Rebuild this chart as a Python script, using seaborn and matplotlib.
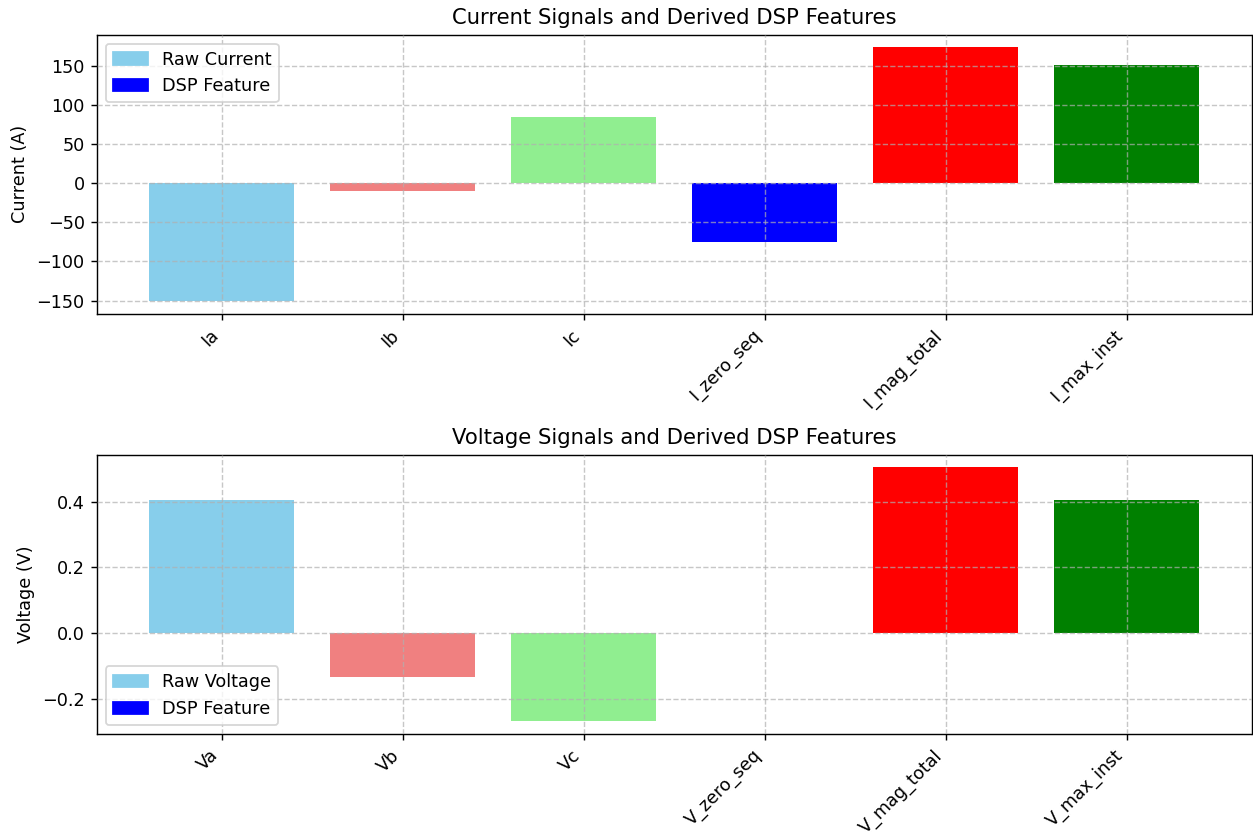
import matplotlib
matplotlib.use("Agg")
import matplotlib.pyplot as plt
import matplotlib.patches as mpatches
from matplotlib.ticker import MultipleLocator
import seaborn as sns
import pandas as pd

current_labels = ["Ia", "Ib", "Ic", "I_zero_seq", "I_mag_total", "I_max_inst"]
current_values = [-151.0, -9.5, 84.7, -75.8, 173.4, 151.0]
voltage_labels = ["Va", "Vb", "Vc", "V_zero_seq", "V_mag_total", "V_max_inst"]
voltage_values = [0.405, -0.134, -0.268, 0.0, 0.504, 0.405]
bar_colors = ["skyblue", "lightcoral", "lightgreen", "blue", "red", "green"]

DPI = 127
W, H = 1253, 832
fig, axes = plt.subplots(2, 1, figsize=(W / DPI, H / DPI), dpi=DPI)
fig.subplots_adjust(left=97 / W, right=1251.5 / W, top=1 - 34.7 / H, bottom=1 - 734 / H,
                    hspace=140.7 / 279.3)

panels = [
    (axes[0], current_labels, current_values, "Current Signals and Derived DSP Features",
     "Current (A)", "Raw Current", 50),
    (axes[1], voltage_labels, voltage_values, "Voltage Signals and Derived DSP Features",
     "Voltage (V)", "Raw Voltage", 0.2),
]

for ax, labels, values, title, ylabel, raw_name, step in panels:
    df = pd.DataFrame({"signal": labels, "value": values})
    sns.barplot(data=df, x="signal", y="value", hue="signal", palette=bar_colors,
                saturation=1, legend=False, ax=ax, width=0.8, linewidth=0)
    n = len(labels)
    ax.set_xlim(-0.4 - 0.05 * (n - 0.2), n - 1 + 0.4 + 0.05 * (n - 0.2))
    ax.yaxis.set_major_locator(MultipleLocator(step))
    ax.set_title(title)
    ax.set_ylabel(ylabel)
    ax.set_xlabel("")
    ax.set_axisbelow(False)
    ax.grid(True, linestyle="--", alpha=0.7)
    plt.setp(ax.get_xticklabels(), rotation=45, ha="right")
    handles = [mpatches.Patch(color=bar_colors[0], label=raw_name),
               mpatches.Patch(color=bar_colors[3], label="DSP Feature")]
    ax.legend(handles=handles, loc="best")

fig.savefig("out.png", dpi=DPI)
